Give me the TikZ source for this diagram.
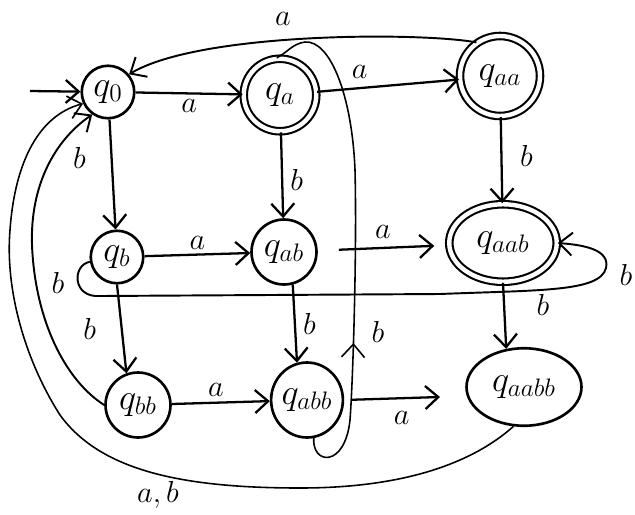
\documentclass[tikz,border=0pt]{standalone}
\usetikzlibrary{arrows.meta,shapes.geometric,decorations.markings}
\tikzset{
  st/.style={
    shape = circle,
    draw,
    line width = 1.5pt,
    inner sep = 0pt,
    font = \huge
  },
  acc/.style={
    st,
    double,
    double distance = 2.5pt,
    line width = 1.2pt
  },
  trans/.style={
    -{Straight Barb[length=2.6mm,width=4.6mm]},
    line width = 1.3pt
  },
  thinloop/.style={
    line width = 0.9pt
  },
  lbl/.style={
    font = \LARGE,
    inner sep = 1pt
  },
  midarrow/.style={
    postaction={decorate},
    decoration={markings,
      mark=at position #1 with {\arrow{Straight Barb[length=2.6mm,width=4.6mm]}}}
  }
}
\begin{document}
\begin{tikzpicture}[x=0.02cm,y=-0.02cm]
  \useasboundingbox (0,0) rectangle (635,514);
  % states
  \node[st, minimum size=1.05cm] (q0) at (108,92) {$q_0$};
  \node[acc, minimum size=1.45cm] (qa) at (280,95) {$q_a$};
  \node[acc, minimum size=1.6cm] (qaa) at (500,76) {$q_{aa}$};
  \node[st, minimum size=1.05cm] (qb) at (117,257) {$q_b$};
  \node[st, minimum size=1.3cm] (qab) at (284,252) {$q_{ab}$};
  \node[acc, ellipse, minimum width=2.15cm, minimum height=1.55cm] (qaab) at (503,243) {$q_{aab}$};
  \node[st, minimum size=1.3cm] (qbb) at (138,405) {$q_{bb}$};
  \node[st, ellipse, minimum width=1.4cm, minimum height=1.5cm] (qabb) at (307,400) {$q_{abb}$};
  \node[st, ellipse, minimum width=2.3cm, minimum height=1.55cm] (qaabb) at (524,387) {$q_{aabb}$};
  \coordinate (start) at (30,91);
  \coordinate (qabbout) at (440,397);
  % straight transitions
  \draw[trans] (start) -- (q0);
  \draw[trans] (q0) -- node[lbl, below=2pt] {$a$} (qa);
  \draw[trans] (qa) -- node[lbl, above=4pt, pos=0.3] {$a$} (qaa);
  \draw[trans] (q0) -- node[lbl, left=13pt, pos=0.35] {$b$} (qb);
  \draw[trans] (qa) -- node[lbl, right=3pt, pos=0.55] {$b$} (qab);
  \draw[trans] (qaa) -- node[lbl, right=9pt, pos=0.45] {$b$} (qaab);
  \draw[trans] (qb) -- node[lbl, above=1pt] {$a$} (qab);
  \draw[trans, shorten <=12pt, shorten >=8pt] (qab) -- node[lbl, above=4pt] {$a$} (qaab);
  \draw[trans] (qab.285) -- node[lbl, right=3pt] {$b$} (qabb.105);
  \draw[trans] (qb.south) -- node[lbl, left=13pt] {$b$} (qbb.110);
  \draw[trans] (qbb) -- node[lbl, above=2pt, pos=0.45] {$a$} (qabb);
  \draw[trans, shorten <=4pt] (qabb.east) -- node[lbl, below=6pt, pos=0.6] {$a$} (qabbout);
  \draw[trans] (qaab.south) -- (qaabb.115);
  \node[lbl] (lbaab) at (543,305) {$b$};
  % curved transitions
  \draw[trans, line width=1.1pt] (qaa.125) .. controls (420,32) and (200,32) .. (q0.40);
  \node[lbl] (lbtop) at (283,19) {$a$};
  \draw[trans, line width=1.1pt] (qbb.west) .. controls (65,380) and (35,320) .. (32,245)
    .. controls (30,185) and (55,140) .. (q0.235);
  \node[lbl] (lbback) at (58,283) {$b$};
  \draw[trans, thinloop] (qaabb.255) .. controls (470,465) and (400,488) .. (300,488)
    .. controls (180,488) and (100,470) .. (60,415)
    .. controls (25,360) and (5,290) .. (10,230)
    .. controls (15,160) and (40,115) .. (q0.205);
  \node[lbl] (lbreset) at (158,495) {$a,b$};
  \draw[thinloop, midarrow=0.3] (qabb.280) .. controls (312,465) and (345,468) .. (350,420)
    .. controls (353,380) and (357,250) .. (355,170)
    .. controls (352,95) and (330,40) .. (305,42)
    .. controls (292,44) and (288,52) .. (qa.95);
  \node[lbl] (lbup) at (378,332) {$b$};
  \draw[trans, line width=1.1pt] (qb.190) .. controls (72,265) and (72,298) .. (100,296)
    -- (440,294) .. controls (540,290) and (600,292) .. (606,268)
    .. controls (610,250) and (585,245) .. (qaab.east);
  \node[lbl] (lbloop) at (626,275) {$b$};
\end{tikzpicture}
\end{document}
